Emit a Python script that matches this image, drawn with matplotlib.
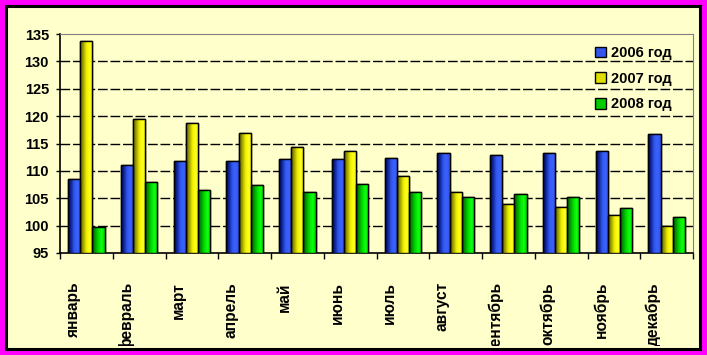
import matplotlib
matplotlib.use("Agg")
import matplotlib.pyplot as plt
import numpy as np
from matplotlib.colors import LinearSegmentedColormap
from matplotlib.patches import Rectangle
from matplotlib.transforms import Bbox, TransformedBbox, blended_transform_factory

# ==== Data ==== #
months = ["январь", "февраль", "март", "апрель", "май", "июнь",
          "июль", "август", "сентябрь", "октябрь", "ноябрь", "декабрь"]
y2006 = [108.5, 111.1, 111.8, 111.8, 112.1, 112.1, 112.4, 113.2, 112.9, 113.2, 113.6, 116.7]
y2007 = [133.7, 119.5, 118.7, 116.9, 114.4, 113.6, 109.1, 106.1, 103.9, 103.4, 102.0, 99.9]
y2008 = [99.7, 107.9, 106.5, 107.4, 106.1, 107.6, 106.1, 105.3, 105.8, 105.3, 103.2, 101.6]
series_labels = ["2006 год", "2007 год", "2008 год"]
yticks = [95, 100, 105, 110, 115, 120, 125, 130, 135]
base = yticks[0]   # bars grow from the axis minimum, as in Excel

plt.rcParams["font.family"] = ["Liberation Sans", "DejaVu Sans"]
plt.rcParams["font.weight"] = "bold"

W, H = 707, 355
fig = plt.figure(figsize=(W / 100, H / 100), dpi=100, facecolor="#ff00ff")

# inner panel with black frame
fig.patches.append(Rectangle((6 / W, 1 - 348.5 / H), 693.5 / W, 342.5 / H,
                             transform=fig.transFigure, facecolor="#ffffcc",
                             edgecolor="black", linewidth=2.2, zorder=-1))

ax = fig.add_axes([60 / W, 1 - 253 / H, 633 / W, 219 / H])
ax.set_zorder(2)
ax.set_facecolor("none")

# gradients left->right like the old Excel bars
cmaps = [
    LinearSegmentedColormap.from_list("b", ["#000060", "#102a9c", "#3458f0", "#3a62ff", "#2c4fe0"]),
    LinearSegmentedColormap.from_list("y", ["#5c5c00", "#a0a000", "#f0f000", "#ffff20", "#e8e800"]),
    LinearSegmentedColormap.from_list("g", ["#005a00", "#009a00", "#00e000", "#10ff10", "#00d000"]),
]
flat = ["#3355ee", "#e0e000", "#00cc00"]

x = np.arange(len(months))
w = 0.23
grad = np.linspace(0, 1, 64).reshape(1, -1)
handles = []
for k, vals in enumerate([y2006, y2007, y2008]):
    heights = np.array(vals) - base
    bars = ax.bar(x + (k - 1) * w, heights, w, bottom=base, color=flat[k],
                  edgecolor="black", linewidth=1.0, zorder=3, label=series_labels[k])
    handles.append(bars)
    for r in bars:
        im = ax.imshow(grad, cmap=cmaps[k], aspect="auto", zorder=3.1,
                       extent=[r.get_x(), r.get_x() + r.get_width(),
                               r.get_y(), r.get_y() + r.get_height()])
        im.set_clip_path(r)
    ax.bar(x + (k - 1) * w, heights, w, bottom=base, fill=False,
           edgecolor="black", linewidth=1.0, zorder=3.2)

ax.set_xlim(-0.5, len(months) - 0.5)
ax.set_ylim(95, 135)
ax.set_yticks(yticks)
ax.set_xticks(np.arange(len(months) + 1) - 0.5)
ax.set_xticklabels([])
ax.tick_params(axis="y", length=3, width=1, pad=5, labelsize=10.5)
ax.tick_params(axis="x", length=4, width=1)
for t in ax.get_yticklabels():
    t.set_fontweight("bold")

for v in yticks[1:-1]:
    ax.axhline(v, color="black", linewidth=1, linestyle=(0, (7, 2)), zorder=1)

for s in ["top", "right"]:
    ax.spines[s].set_color("#808080")
for s in ["left", "bottom"]:
    ax.spines[s].set_linewidth(1.2)

# month labels, rotated and clipped by the frame like the original
clip = TransformedBbox(Bbox([[8 / W, 1 - 346 / H], [697 / W, 1 - 8 / H]]), fig.transFigure)
trans = blended_transform_factory(ax.transData, fig.transFigure)
for i, m in enumerate(months):
    t = ax.text(i - 0.25, 1 - 282 / H, m, transform=trans, rotation=90,
                ha="center", va="top", fontsize=11.2, fontweight="bold", zorder=5)
    t.set_clip_on(True)
    t.set_clip_box(clip)

leg = ax.legend(handles=handles, loc="upper left", bbox_to_anchor=(595 / W, 1 - 46 / H),
                bbox_transform=fig.transFigure, frameon=False, fontsize=10.5,
                handlelength=0.75, handleheight=0.75, handletextpad=0.35,
                labelspacing=0.8, borderpad=0, borderaxespad=0)
for t in leg.get_texts():
    t.set_fontweight("bold")

fig.savefig("out.png", dpi=100, facecolor=fig.get_facecolor())
